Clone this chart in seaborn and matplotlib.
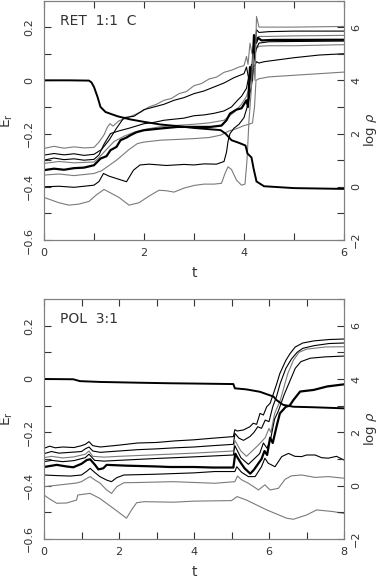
import numpy as np
import pandas as pd
import matplotlib
matplotlib.use('Agg')
import matplotlib.pyplot as plt
from matplotlib.ticker import FixedLocator
import seaborn as sns

# ---------------- RET 1:1 C (top panel), t in [0, 6] ----------------
RET_RHO_T = [0, 0.5, 0.9, 0.95, 1.0, 1.07, 1.13, 1.23, 1.47, 1.73, 2.0, 2.33, 2.67, 3.0, 3.33, 3.53,
             3.63, 3.75, 3.9, 4.03, 4.07, 4.15, 4.19, 4.25, 4.4, 5.0, 6.0]
RET_RHO = [4.0, 4.0, 3.99, 3.92, 3.75, 3.38, 3.0, 2.81, 2.65, 2.53, 2.44, 2.34, 2.28, 2.21, 2.16, 2.13,
           2.0, 1.75, 1.65, 1.55, 1.25, 1.1, 0.7, 0.2, 0.02, -0.05, -0.08]

RET_C1_T = [0, 0.2, 0.4, 0.6, 0.8, 1.0, 1.1, 1.2, 1.27, 1.32, 1.38, 1.5, 1.65, 1.8, 1.95, 2.1, 2.25, 2.4,
            2.55, 2.7, 2.85, 3.0, 3.15, 3.3, 3.45, 3.6, 3.75, 3.9, 4.0, 4.05, 4.08, 4.12, 4.16, 4.2,
            4.25, 4.3, 4.5, 5.0, 5.5, 6.0]
RET_C1_E = [-0.256, -0.248, -0.255, -0.25, -0.254, -0.252, -0.232, -0.205, -0.175, -0.163, -0.172,
            -0.152, -0.142, -0.13, -0.118, -0.1, -0.09, -0.075, -0.068, -0.05, -0.042, -0.02, -0.012,
            0.005, 0.012, 0.03, 0.038, 0.05, 0.055, 0.09, 0.06, 0.14, 0.1, 0.15, 0.12, 0.128, 0.13,
            0.13, 0.132, 0.134]

RET_C2_T = [0, 0.2, 0.4, 0.6, 0.8, 1.0, 1.15, 1.3, 1.45, 1.6, 1.8, 2.0, 2.2, 2.4, 2.6, 2.8, 3.0, 3.2,
            3.4, 3.6, 3.8, 4.0, 4.05, 4.1, 4.15, 4.2, 4.25, 4.3, 4.4, 5.0, 5.5, 6.0]
RET_C2_E = [-0.281, -0.275, -0.28, -0.276, -0.282, -0.278, -0.26, -0.225, -0.18, -0.14, -0.135, -0.11,
            -0.1, -0.09, -0.075, -0.065, -0.05, -0.04, -0.025, -0.01, 0.01, 0.025, 0.05, 0.0, 0.06,
            0.05, 0.07, 0.065, 0.07, 0.085, 0.095, 0.1]

RET_C3_T = [0, 0.2, 0.4, 0.6, 0.8, 1.0, 1.1, 1.2, 1.33, 1.5, 1.7, 2.0, 2.2, 2.4, 2.6, 2.8, 3.0, 3.2,
            3.4, 3.6, 3.75, 3.87, 3.95, 4.05, 4.1, 4.15, 4.2, 4.25, 4.3, 4.5, 5.0, 6.0]
RET_C3_E = [-0.3, -0.292, -0.298, -0.295, -0.3, -0.297, -0.28, -0.24, -0.2, -0.19, -0.18, -0.163,
            -0.158, -0.15, -0.146, -0.142, -0.133, -0.13, -0.124, -0.115, -0.1, -0.075, -0.06, -0.03,
            0.02, -0.01, 0.08, 0.12, 0.14, 0.145, 0.146, 0.1475]

RET_C4_T = [0, 0.3, 0.6, 1.0, 1.1, 1.25, 1.4, 1.6, 1.8, 2.0, 2.3, 2.6, 3.0, 3.3, 3.6, 3.8, 3.95, 4.05,
            4.12, 4.18, 4.22, 4.3, 4.5, 5.0, 6.0]
RET_C4_E = [-0.312, -0.305, -0.31, -0.307, -0.29, -0.26, -0.23, -0.21, -0.195, -0.185, -0.175, -0.17,
            -0.165, -0.16, -0.15, -0.12, -0.09, -0.06, -0.02, 0.08, 0.15, 0.165, 0.165, 0.167, 0.169]

RET_C5_T = [0, 0.2, 0.4, 0.6, 0.8, 1.0, 1.13, 1.25, 1.33, 1.45, 1.53, 1.65, 1.73, 1.85, 2.0, 2.33,
            2.67, 3.0, 3.33, 3.55, 3.65, 3.72, 3.85, 3.95, 4.05, 4.08, 4.12, 4.16, 4.2, 4.24, 4.28,
            4.35, 4.6, 5.0, 6.0]
RET_C5_E = [-0.3375, -0.332, -0.336, -0.33, -0.328, -0.319, -0.294, -0.285, -0.2625, -0.25, -0.225,
            -0.215, -0.206, -0.195, -0.1875, -0.181, -0.175, -0.175, -0.175, -0.17, -0.15, -0.125,
            -0.11, -0.105, -0.075, -0.1, 0.05, 0.0, 0.17, 0.14, 0.16, 0.15, 0.152, 0.152, 0.1525]

RET_C6_T = [0, 0.3, 0.6, 1.0, 1.15, 1.3, 1.45, 1.53, 1.7, 1.87, 2.0, 2.33, 2.67, 3.0, 3.3, 3.53, 3.6,
            3.7, 3.8, 3.9, 4.0, 4.1, 4.17, 4.21, 4.24, 4.3, 4.5, 5.0, 5.5, 6.0]
RET_C6_E = [-0.356, -0.352, -0.358, -0.35, -0.34, -0.32, -0.3, -0.2875, -0.26, -0.2375, -0.232, -0.225,
            -0.222, -0.219, -0.215, -0.206, -0.2, -0.19, -0.185, -0.178, -0.17, -0.165, -0.16, -0.1,
            0.0, 0.006, 0.013, 0.019, 0.025, 0.031]

RET_C7_T = [0, 0.3, 0.6, 1.0, 1.1, 1.19, 1.3, 1.45, 1.65, 1.79, 1.92, 2.1, 2.45, 2.8, 3.0, 3.2, 3.45,
            3.6, 3.65, 3.68, 3.72, 3.8, 3.9, 4.0, 4.08, 4.15, 4.2, 4.25, 4.3, 4.5, 5.0, 6.0]
RET_C7_E = [-0.4, -0.398, -0.402, -0.394, -0.38, -0.35, -0.36, -0.369, -0.381, -0.3375, -0.318, -0.315,
            -0.32, -0.316, -0.318, -0.314, -0.315, -0.305, -0.27, -0.23, -0.2, -0.18, -0.165, -0.14,
            -0.09, -0.02, 0.08, 0.19, 0.18, 0.183, 0.185, 0.185]

RET_C8_T = [0, 0.15, 0.3, 0.5, 0.7, 0.9, 1.05, 1.2, 1.35, 1.5, 1.7, 1.9, 2.1, 2.3, 2.45, 2.6, 2.8, 3.0,
            3.2, 3.4, 3.55, 3.62, 3.68, 3.75, 3.85, 3.95, 4.02, 4.06, 4.1, 4.14, 4.18, 4.22, 4.25,
            4.3, 4.5, 5.0, 6.0]
RET_C8_E = [-0.44, -0.45, -0.46, -0.469, -0.465, -0.455, -0.43, -0.41, -0.425, -0.44, -0.469, -0.46,
            -0.435, -0.413, -0.415, -0.42, -0.405, -0.395, -0.39, -0.39, -0.387, -0.35, -0.325,
            -0.335, -0.375, -0.394, -0.39, -0.3, -0.15, -0.05, 0.1, 0.0, 0.24, 0.2, 0.2, 0.2, 0.2025]

# ---------------- POL 3:1 (bottom panel), t in [0, 8] ----------------
POL_RHO_T = [0, 0.78, 0.96, 1.49, 2.56, 3.36, 4.0, 5.05, 5.09, 5.4, 5.76, 6.12, 6.2, 6.38, 6.65, 7.19, 8.0]
POL_RHO = [4.0, 3.99, 3.92, 3.89, 3.86, 3.84, 3.83, 3.81, 3.65, 3.61, 3.52, 3.34, 3.21, 3.03, 2.96, 2.94, 2.9]

POL_C1_T = [0, 0.15, 0.3, 0.5, 0.8, 1.0, 1.1, 1.2, 1.3, 1.5, 2.0, 2.5, 3.0, 3.5, 4.0, 4.5, 5.05, 5.09,
            5.15, 5.32, 5.49, 5.58, 5.67, 5.76, 5.85, 5.94, 6.03, 6.12, 6.21, 6.29, 6.45, 6.56, 6.7,
            6.9, 7.2, 7.6, 8.0]
POL_C1_E = [-0.26, -0.252, -0.258, -0.255, -0.257, -0.25, -0.245, -0.235, -0.25, -0.255, -0.248, -0.24,
            -0.238, -0.232, -0.228, -0.222, -0.216, -0.19, -0.195, -0.191, -0.179, -0.166, -0.17,
            -0.129, -0.135, -0.104, -0.091, -0.054, -0.016, 0.021, 0.07, 0.095, 0.12, 0.135, 0.143,
            0.148, 0.15]

POL_C2_T = [0, 0.2, 0.4, 0.7, 1.0, 1.1, 1.2, 1.3, 1.5, 2.0, 2.5, 3.0, 3.5, 4.0, 4.5, 5.05, 5.09, 5.2,
            5.32, 5.49, 5.6, 5.7, 5.8, 5.9, 6.0, 6.1, 6.2, 6.3, 6.45, 6.6, 6.75, 6.9, 7.2, 7.6, 8.0]
POL_C2_E = [-0.28, -0.272, -0.278, -0.275, -0.272, -0.262, -0.255, -0.27, -0.275, -0.27, -0.265, -0.262,
            -0.258, -0.255, -0.25, -0.245, -0.204, -0.222, -0.23, -0.216, -0.2, -0.179, -0.185, -0.154,
            -0.16, -0.104, -0.066, -0.016, 0.04, 0.075, 0.1, 0.115, 0.125, 0.133, 0.135]

POL_C3_T = [0, 0.2, 0.5, 0.8, 1.1, 1.2, 1.3, 1.6, 2.0, 3.0, 4.0, 5.05, 5.09, 5.25, 5.4, 5.55, 5.7, 5.8,
            5.9, 6.0, 6.05, 6.15, 6.3, 6.4, 6.5, 6.65, 6.8, 7.0, 7.5, 8.0]
POL_C3_E = [-0.295, -0.29, -0.296, -0.292, -0.282, -0.27, -0.29, -0.293, -0.29, -0.284, -0.278, -0.27,
            -0.23, -0.27, -0.29, -0.27, -0.25, -0.235, -0.22, -0.185, -0.2, -0.13, -0.08, -0.03, 0.02,
            0.07, 0.1, 0.112, 0.12, 0.121]

POL_C4_T = [0, 0.2, 0.5, 0.8, 1.1, 1.2, 1.35, 1.6, 2.0, 3.0, 4.0, 5.05, 5.09, 5.25, 5.45, 5.6, 5.75,
            5.85, 5.95, 6.05, 6.15, 6.25, 6.4, 6.55, 6.7, 6.85, 7.1, 7.5, 8.0]
POL_C4_E = [-0.31, -0.305, -0.31, -0.306, -0.295, -0.282, -0.305, -0.308, -0.305, -0.298, -0.292,
            -0.285, -0.25, -0.295, -0.32, -0.3, -0.28, -0.24, -0.26, -0.22, -0.15, -0.12, -0.06, -0.01,
            0.04, 0.065, 0.078, 0.083, 0.086]

POL_C5_T = [0, 0.34, 0.6, 0.78, 1.0, 1.14, 1.23, 1.36, 1.45, 1.58, 1.67, 2.2, 3.0, 3.36, 4.0, 4.5,
            5.05, 5.1, 5.14, 5.25, 5.35, 5.5, 5.6, 5.7, 5.8, 5.88, 5.95, 6.03, 6.1, 6.2, 6.29, 6.45,
            6.55, 6.65, 6.83, 7.19, 7.55, 8.0]
POL_C5_E = [-0.33, -0.322, -0.328, -0.331, -0.318, -0.304, -0.301, -0.322, -0.339, -0.335, -0.322,
            -0.325, -0.328, -0.33, -0.33, -0.332, -0.332, -0.28, -0.29, -0.315, -0.335, -0.355, -0.34,
            -0.32, -0.3, -0.27, -0.285, -0.22, -0.24, -0.179, -0.129, -0.104, -0.1, -0.079, -0.047,
            -0.041, -0.028, -0.02]

POL_C6_T = [0, 0.3, 0.7, 1.0, 1.15, 1.23, 1.35, 1.49, 1.67, 1.8, 1.94, 2.13, 3.0, 4.0, 4.56, 5.09,
            5.14, 5.27, 5.45, 5.63, 5.8, 5.89, 5.98, 6.16, 6.34, 6.52, 6.69, 6.87, 7.0, 7.23, 7.4,
            7.58, 7.8, 8.0]
POL_C6_E = [-0.36, -0.362, -0.364, -0.36, -0.345, -0.335, -0.35, -0.366, -0.379, -0.385, -0.37, -0.36,
            -0.357, -0.352, -0.347, -0.347, -0.329, -0.35, -0.366, -0.366, -0.329, -0.297, -0.316,
            -0.329, -0.291, -0.279, -0.29, -0.291, -0.285, -0.285, -0.295, -0.297, -0.29, -0.304]

POL_C7_T = [0, 0.43, 0.87, 1.0, 1.15, 1.23, 1.35, 1.49, 1.67, 1.8, 1.94, 2.13, 2.56, 3.45, 4.0, 4.56,
            5.09, 5.16, 5.27, 5.45, 5.72, 5.89, 6.03, 6.25, 6.43, 6.6, 6.87, 7.23, 7.58, 8.0]
POL_C7_E = [-0.404, -0.397, -0.39, -0.385, -0.372, -0.366, -0.378, -0.39, -0.416, -0.429, -0.404,
            -0.389, -0.388, -0.385, -0.388, -0.391, -0.385, -0.364, -0.378, -0.391, -0.416, -0.397,
            -0.416, -0.41, -0.376, -0.363, -0.36, -0.369, -0.366, -0.372]

POL_C8_T = [0, 0.15, 0.34, 0.6, 0.87, 0.9, 1.23, 1.49, 1.85, 2.2, 2.34, 2.47, 2.67, 3.45, 4.0, 5.0,
            5.15, 5.4, 5.94, 6.47, 6.65, 7.0, 7.27, 7.7, 8.0]
POL_C8_E = [-0.435, -0.45, -0.466, -0.465, -0.454, -0.435, -0.429, -0.448, -0.485, -0.522, -0.49,
            -0.464, -0.46, -0.462, -0.458, -0.456, -0.441, -0.454, -0.491, -0.522, -0.526, -0.51,
            -0.491, -0.497, -0.504]

BLACK = '#000000'
GRAY = '#7a7a7a'
TEXT = '#333333'
FRAME = '#808080'

sns.set_style('ticks')
plt.rcParams['font.family'] = ['DejaVu Sans']
plt.rcParams['mathtext.fontset'] = 'dejavusans'


def e_fmt(v):
    if abs(v) < 1e-9:
        return '0'
    return f'{v:.1f}'.replace('-', '\u2212')


def i_fmt(v):
    return f'{int(round(v))}'.replace('-', '\u2212')


def draw_panel(ax, curves, rho_t, rho, xmax, label):
    for t, e, color, lw in curves:
        sns.lineplot(x=t, y=e, ax=ax, color=color, linewidth=lw, sort=False, estimator=None)
    ax.set_xlim(0, xmax)
    ax.set_ylim(-0.6, 0.3)

    ax2 = ax.twinx()
    sns.lineplot(x=rho_t, y=rho, ax=ax2, color=BLACK, linewidth=1.4, sort=False, estimator=None)
    ax2.set_ylim(-2, 7)

    # left axis: E_r
    ax.yaxis.set_major_locator(FixedLocator([-0.6, -0.4, -0.2, 0.0, 0.2]))
    ax.yaxis.set_minor_locator(FixedLocator([-0.5, -0.3, -0.1, 0.1]))
    ax.set_yticklabels([e_fmt(v) for v in [-0.6, -0.4, -0.2, 0.0, 0.2]], rotation=90, va='center')
    # x axis
    major_x = list(range(0, xmax + 1, 2))
    ax.xaxis.set_major_locator(FixedLocator(major_x))
    ax.xaxis.set_minor_locator(FixedLocator(list(range(1, xmax, 2))))
    ax.set_xticklabels([i_fmt(v) for v in major_x])
    # right axis: log rho
    ax2.yaxis.set_major_locator(FixedLocator([-2, 0, 2, 4, 6]))
    ax2.yaxis.set_minor_locator(FixedLocator([-1, 1, 3, 5, 7]))
    ax2.set_yticklabels([i_fmt(v) for v in [-2, 0, 2, 4, 6]], rotation=90, va='center')

    for a in (ax, ax2):
        a.tick_params(which='both', direction='in', length=5, width=0.8, color=TEXT,
                      labelsize=8, labelcolor=TEXT)
        for sp in a.spines.values():
            sp.set_visible(True)
            sp.set_color(FRAME)
            sp.set_linewidth(0.8)
    ax.tick_params(axis='x', which='both', top=True, pad=6)
    ax.tick_params(axis='y', which='both', pad=7)
    ax2.tick_params(axis='y', which='both', pad=5)

    ax.set_xlabel('t', fontsize=10, color=TEXT)
    ax.xaxis.set_label_coords(0.5, -0.11)
    ax.set_ylabel(r'E$_\mathrm{r}$', fontsize=10, color=TEXT)
    ax.yaxis.set_label_coords(-0.095, 0.5)
    ax2.set_ylabel(r'log $\rho$', fontsize=9.5, color=TEXT)
    ax2.yaxis.set_label_coords(1.06, 0.46)

    ax.text(0.053, 0.945, label, transform=ax.transAxes, fontsize=10, color=TEXT,
            ha='left', va='top')


def main():
    fig = plt.figure(figsize=(3.81, 5.78), dpi=100)
    ax_top = fig.add_axes([44 / 381, 338 / 578, 300 / 381, 239.5 / 578])
    ax_bot = fig.add_axes([44 / 381, 39 / 578, 300 / 381, 240 / 578])

    ret_curves = [
        (RET_C1_T, RET_C1_E, GRAY, 0.8),
        (RET_C2_T, RET_C2_E, BLACK, 0.8),
        (RET_C3_T, RET_C3_E, BLACK, 0.8),
        (RET_C4_T, RET_C4_E, GRAY, 0.8),
        (RET_C5_T, RET_C5_E, BLACK, 1.6),
        (RET_C6_T, RET_C6_E, GRAY, 0.8),
        (RET_C7_T, RET_C7_E, BLACK, 0.8),
        (RET_C8_T, RET_C8_E, GRAY, 0.8),
    ]
    pol_curves = [
        (POL_C1_T, POL_C1_E, BLACK, 0.8),
        (POL_C2_T, POL_C2_E, BLACK, 0.8),
        (POL_C3_T, POL_C3_E, GRAY, 0.8),
        (POL_C4_T, POL_C4_E, BLACK, 0.8),
        (POL_C5_T, POL_C5_E, BLACK, 1.6),
        (POL_C6_T, POL_C6_E, BLACK, 0.8),
        (POL_C7_T, POL_C7_E, GRAY, 0.8),
        (POL_C8_T, POL_C8_E, GRAY, 0.8),
    ]

    draw_panel(ax_top, ret_curves, RET_RHO_T, RET_RHO, 6, 'RET  1:1  C')
    draw_panel(ax_bot, pol_curves, POL_RHO_T, POL_RHO, 8, 'POL  3:1')

    fig.savefig('out.png', dpi=100)
    plt.close(fig)


if __name__ == '__main__':
    main()
